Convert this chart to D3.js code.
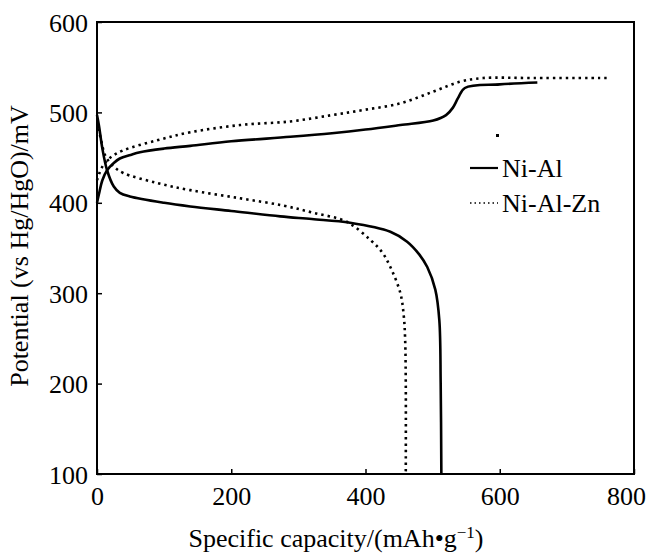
<!DOCTYPE html>
<html>
<head>
<meta charset="utf-8">
<script src="https://cdn.jsdelivr.net/npm/d3@7"></script>
<style>
  body { margin: 0; background: #fff; }
  svg text { font-family: "Liberation Serif", "Times New Roman", Tinos, "DejaVu Serif", serif !important; fill: #000; }
</style>
</head>
<body>
<script>
// capacity (mAh/g) and potential (mV)
var niAlCharge = [
    [0, 400], [3, 410], [8, 425], [15, 436], [25, 444], [34, 449], [50, 453], [64, 456],
    [100, 460], [139, 463], [200, 468], [288, 473], [350, 477], [400, 481], [452, 486],
    [501, 491], [520, 497], [530, 505], [538, 516], [548, 527], [600, 531], [656, 533]
];
var niAlDischarge = [
    [0, 497], [3, 485], [8, 460], [15, 436], [25, 418], [34, 411], [49, 407], [100, 400],
    [139, 396], [200, 391], [273, 385], [320, 382], [377, 378], [437, 368], [462, 357],
    [480, 343], [492, 329], [504, 304], [510, 270], [512, 200], [513, 100]
];
var niAlZnCharge = [
    [0, 425], [8, 440], [20, 450], [39, 458], [89, 469], [139, 478], [213, 486], [288, 490],
    [350, 497], [400, 503], [452, 510], [501, 523], [541, 534], [575, 538], [650, 538], [762, 538]
];
var niAlZnDischarge = [
    [2, 482], [5, 473], [13, 451], [25, 440], [39, 433], [89, 422], [139, 414], [213, 405],
    [277, 397], [322, 389], [372, 379], [407, 359], [425, 345], [437, 329], [452, 300],
    [457, 275], [459, 250], [460, 200], [460, 100]
];
var xTicks = [0, 200, 400, 600, 800];
var yTicks = [100, 200, 300, 400, 500, 600];
var legendNames = ["Ni-Al", "Ni-Al-Zn"];

var width = 646, height = 560;
var margin = {left: 97, right: 12, top: 22, bottom: 86};
var serif = "'Liberation Serif', 'Times New Roman', Tinos, 'DejaVu Serif', serif";

var svg = d3.select("body").append("svg")
    .attr("width", width)
    .attr("height", height);

var x = d3.scaleLinear().domain([0, 800]).range([margin.left, width - margin.right]);
var y = d3.scaleLinear().domain([100, 600]).range([height - margin.bottom, margin.top]);

var xAxis = svg.append("g")
    .attr("transform", "translate(0," + y(100) + ")")
    .call(d3.axisBottom(x).tickValues(xTicks).tickSize(-5).tickFormat(d3.format("d")))
    .attr("font-family", serif);
xAxis.select(".domain").remove();
xAxis.selectAll("line").attr("stroke-width", 1.5);
xAxis.selectAll("text")
    .attr("y", 31).attr("dy", 0)
    .attr("dx", function(d) { return d === 800 ? -8 : 0; })
    .style("font-size", "26px");

var yAxis = svg.append("g")
    .attr("transform", "translate(" + x(0) + ",0)")
    .call(d3.axisLeft(y).tickValues(yTicks).tickSize(-5).tickPadding(9))
    .attr("font-family", serif);
yAxis.select(".domain").remove();
yAxis.selectAll("line").attr("stroke-width", 1.5);
yAxis.selectAll("text")
    .attr("dy", "0.35em")
    .style("font-size", "26px");

// frame
svg.append("rect")
    .attr("x", x(0)).attr("y", y(600))
    .attr("width", x(800) - x(0)).attr("height", y(100) - y(600))
    .attr("fill", "none").attr("stroke", "#000").attr("stroke-width", 2);

var line = d3.line()
    .x(function(d) { return x(d[0]); })
    .y(function(d) { return y(d[1]); })
    .curve(d3.curveCatmullRom.alpha(0.5));

[niAlCharge, niAlDischarge].forEach(function(data) {
    svg.append("path").datum(data)
        .attr("d", line)
        .attr("fill", "none").attr("stroke", "#000")
        .attr("stroke-width", 2.6);
});
[niAlZnCharge, niAlZnDischarge].forEach(function(data) {
    svg.append("path").datum(data)
        .attr("d", line)
        .attr("fill", "none").attr("stroke", "#000")
        .attr("stroke-width", 2.6)
        .attr("stroke-dasharray", "2.4,4");
});

// legend
var legend = svg.append("g");
legendNames.forEach(function(name, i) {
    var ly = 168 + i * 35;
    legend.append("line")
        .attr("x1", 470).attr("x2", 498)
        .attr("y1", ly).attr("y2", ly)
        .attr("stroke", "#000")
        .attr("stroke-width", i === 0 ? 2.2 : 1.6)
        .attr("stroke-dasharray", i === 0 ? null : "1.5,3");
    legend.append("text")
        .attr("x", 502).attr("y", ly + 9)
        .style("font-size", "26px")
        .text(name);
});
// little speck above the legend in the original
svg.append("rect").attr("x", 496).attr("y", 134).attr("width", 3).attr("height", 3).attr("fill", "#000");

svg.append("text")
    .attr("x", 336).attr("y", 547)
    .attr("text-anchor", "middle")
    .style("font-size", "26px")
    .html("Specific capacity/(mAh\u2022g<tspan dy='-9' font-size='17'>\u22121</tspan><tspan dy='9'>)</tspan>");

svg.append("text")
    .attr("transform", "translate(28,246) rotate(-90)")
    .attr("text-anchor", "middle")
    .style("font-size", "26px")
    .text("Potential (vs Hg/HgO)/mV");
</script>
</body>
</html>
